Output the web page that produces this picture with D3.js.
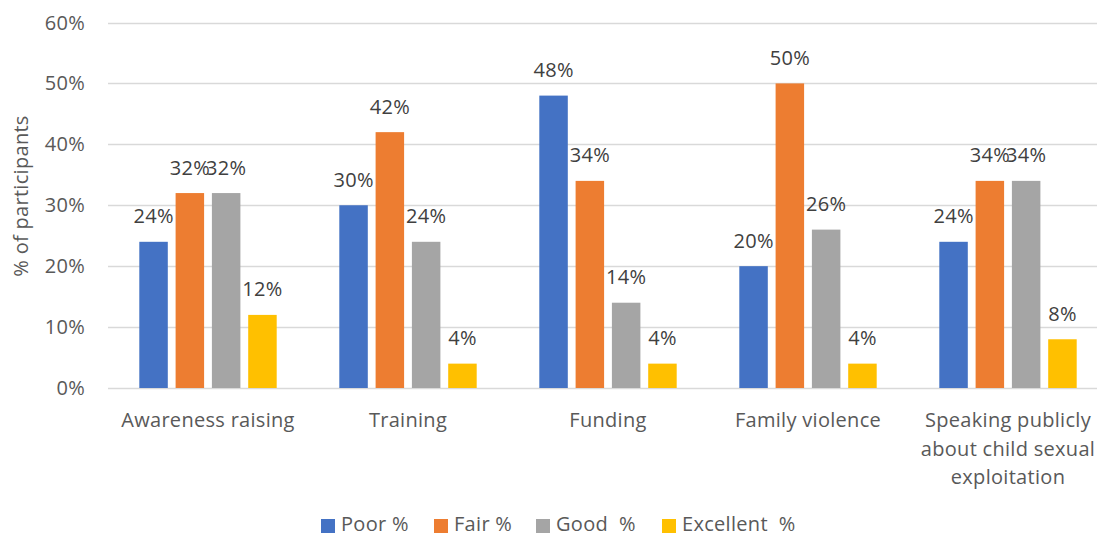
<!DOCTYPE html>
<html>
<head>
<meta charset="utf-8">
<script src="https://cdn.jsdelivr.net/npm/d3@7"></script>
<style>
  html, body { margin: 0; padding: 0; background: #fff; overflow: hidden; }
  svg { display: block; font-family: "Open Sans", "Liberation Sans", sans-serif; }
  svg text { letter-spacing: 0.3px; }
</style>
</head>
<body>
<svg id="chart" width="1097" height="537"></svg>
<script>
// chart data
const categories = [
    ["Awareness raising"],
    ["Training"],
    ["Funding"],
    ["Family violence"],
    ["Speaking publicly", "about child sexual", "exploitation"]
];
const seriesNames = ["Poor %", "Fair %", "Good  %", "Excellent  %"];
const seriesColors = ["#4472C4", "#ED7D31", "#A5A5A5", "#FFC000"];
const poor = [0.24, 0.30, 0.48, 0.20, 0.24];
const fair = [0.32, 0.42, 0.34, 0.50, 0.34];
const good = [0.32, 0.24, 0.14, 0.26, 0.34];
const excellent = [0.12, 0.04, 0.04, 0.04, 0.08];
const yTicks = [0, 0.1, 0.2, 0.3, 0.4, 0.5, 0.6];

const seriesValues = [poor, fair, good, excellent];

const svg = d3.select("#chart");
const width = 1097, height = 537;
const fontSize = 20;

// scales
const x = d3.scaleBand()
    .domain(d3.range(categories.length))
    .range([108, 1108])
    .padding(0);

const xInner = d3.scaleBand()
    .domain(d3.range(seriesNames.length))
    .range([-68.7, 68.7])
    .paddingInner(0.215)
    .paddingOuter(0);

const y = d3.scaleLinear()
    .domain([0, 0.6])
    .range([388, 22.5]);

const pct = d3.format(".0%");

// gridlines
svg.append("g")
    .selectAll("line")
    .data(yTicks)
    .join("line")
    .attr("x1", 108)
    .attr("x2", width)
    .attr("y1", d => Math.round(y(d)) + 0.5)
    .attr("y2", d => Math.round(y(d)) + 0.5)
    .attr("stroke", "#D9D9D9")
    .attr("stroke-width", 1.3);

// y tick labels
svg.append("g")
    .selectAll("text")
    .data(yTicks)
    .join("text")
    .attr("x", 85)
    .attr("y", d => y(d) + 7)
    .attr("text-anchor", "end")
    .attr("font-size", fontSize)
    .attr("fill", "#595959")
    .text(d => pct(d));

// y axis title
svg.append("text")
    .attr("transform", "translate(28,196) rotate(-90)")
    .attr("text-anchor", "middle")
    .attr("font-size", fontSize)
    .attr("fill", "#595959")
    .text("% of participants");

// bars
const groups = svg.append("g")
    .selectAll("g")
    .data(categories)
    .join("g")
    .attr("transform", (d, i) => `translate(${x(i) + x.bandwidth() / 2},0)`);

const barData = (d, i) => seriesValues.map((vals, s) => ({ s, v: vals[i] }));

groups.selectAll("rect")
    .data(barData)
    .join("rect")
    .attr("x", d => xInner(d.s))
    .attr("width", xInner.bandwidth())
    .attr("y", d => y(d.v))
    .attr("height", d => y(0) - y(d.v))
    .attr("fill", d => seriesColors[d.s]);

// data labels
groups.selectAll("text.lbl")
    .data(barData)
    .join("text")
    .attr("class", "lbl")
    .attr("x", d => xInner(d.s) + xInner.bandwidth() / 2)
    .attr("y", d => y(d.v) - 18.5)
    .attr("text-anchor", "middle")
    .attr("font-size", fontSize)
    .attr("fill", "#404040")
    .text(d => pct(d.v));

// category labels
groups.append("text")
    .attr("text-anchor", "middle")
    .attr("font-size", fontSize)
    .attr("fill", "#595959")
    .selectAll("tspan")
    .data(d => d)
    .join("tspan")
    .attr("x", 0)
    .attr("y", (d, j) => 427 + j * 28.5)
    .text(d => d);

// legend (sits at the very bottom edge, like the original)
const legendX = [321, 434, 536, 662];
const legend = svg.append("g")
    .selectAll("g")
    .data(seriesNames)
    .join("g")
    .attr("transform", (d, i) => `translate(${legendX[i]},519)`);

legend.append("rect")
    .attr("width", 14)
    .attr("height", 14)
    .attr("fill", (d, i) => seriesColors[i]);

legend.append("text")
    .attr("x", 20)
    .attr("y", 12)
    .attr("font-size", fontSize)
    .attr("fill", "#595959")
    .style("white-space", "pre")
    .text(d => d);
</script>
</body>
</html>
